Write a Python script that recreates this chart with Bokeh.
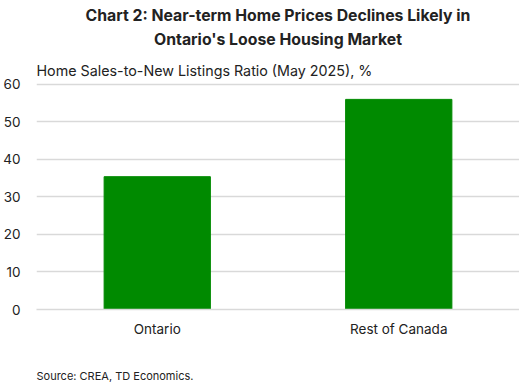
from bokeh.plotting import figure
from bokeh.models import Range1d, Title, ColumnDataSource
from bokeh.embed import file_html
from bokeh.resources import INLINE

categories = ["Ontario", "Rest of Canada"]
values = [35.4, 56.0]
y_ticks = [0, 10, 20, 30, 40, 50, 60]

FONT = "Inter"
src = ColumnDataSource(data=dict(cat=categories, val=values))

p = figure(x_range=categories, y_range=Range1d(0, 60.5), width=519, height=386,
           output_backend="svg", toolbar_location=None,
           min_border_left=35, min_border_right=0, min_border_top=82, min_border_bottom=77)

p.vbar(x="cat", top="val", width=0.44, source=src, color="#008a00")

p.outline_line_color = None
p.xgrid.grid_line_color = None
p.ygrid.grid_line_color = "#d9d9d9"
p.ygrid.grid_line_width = 1.5
p.yaxis.ticker = y_ticks
p.yaxis.axis_line_color = None
p.yaxis.major_tick_line_color = None
p.yaxis.minor_tick_line_color = None
p.yaxis.major_label_text_font = FONT
p.yaxis.major_label_text_font_size = "13.5px"
p.yaxis.major_label_text_color = "#222222"
p.yaxis.major_label_standoff = 10
p.xaxis.axis_line_color = "#d9d9d9"
p.xaxis.axis_line_width = 1.5
p.xaxis.major_tick_line_color = None
p.xaxis.major_label_text_font = FONT
p.xaxis.major_label_text_font_size = "13.5px"
p.xaxis.major_label_text_color = "#222222"
p.xaxis.major_label_standoff = 5

p.add_layout(Title(text=" ", align="left", text_font=FONT,
                   text_font_size="21px", standoff=0), "below")
p.add_layout(Title(text="Source: CREA, TD Economics.", align="left", text_font=FONT,
                   text_font_size="11px", text_font_style="normal", text_color="#222222",
                   standoff=0), "below")

p.add_layout(Title(text="Home Sales-to-New Listings Ratio (May 2025), %", align="left",
                   text_font=FONT, text_font_size="14.3px", text_font_style="normal",
                   text_color="#222222", standoff=8), "above")
p.add_layout(Title(text="Ontario's Loose Housing Market", align="center",
                   text_font=FONT, text_font_size="15.8px", text_font_style="bold",
                   text_color="#222222", standoff=14, offset=-26), "above")
p.add_layout(Title(text="Chart 2: Near-term Home Prices Declines Likely in", align="center",
                   text_font=FONT, text_font_size="15.8px", text_font_style="bold",
                   text_color="#222222", standoff=-8, offset=-26), "above")

open("out.html", "w").write(file_html(p, INLINE))
